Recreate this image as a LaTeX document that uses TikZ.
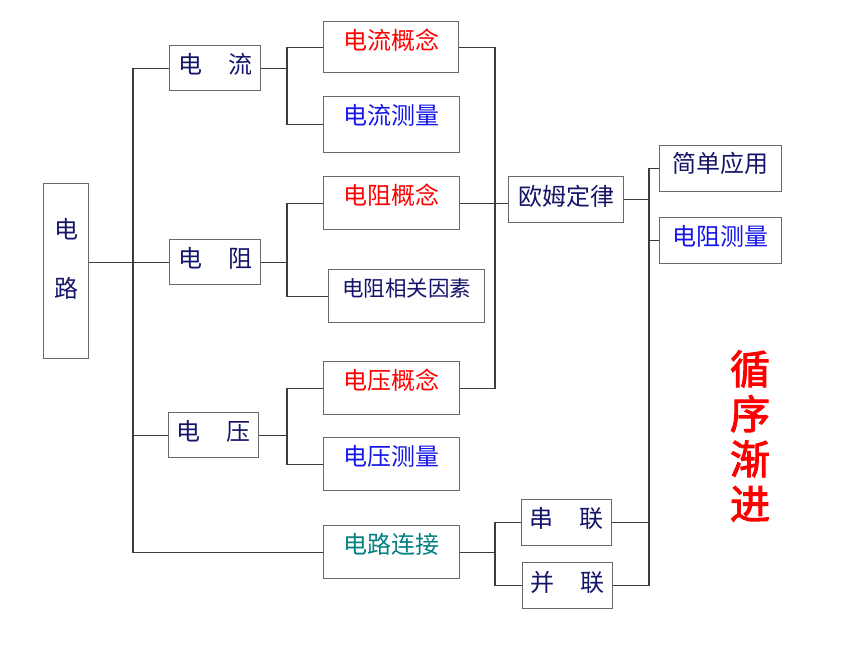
\documentclass[tikz,border=0pt]{standalone}
\usepackage{fontspec}
\usepackage{tikz}
\newfontfamily\cjk[AutoFakeBold=2.5]{Noto Sans CJK SC}
\definecolor{navy}{RGB}{20,20,105}
\definecolor{lblue}{RGB}{20,20,235}
\definecolor{lteal}{RGB}{0,128,128}
\definecolor{boxgray}{RGB}{105,105,105}
\definecolor{linegray}{RGB}{60,60,60}
\begin{document}
\begin{tikzpicture}[x=1pt,y=-1pt,
 box/.style={rectangle,draw=boxgray,line width=1.2pt,anchor=north west,inner sep=0pt,
  font=\cjk\fontsize{24}{28}\selectfont,text=navy,text height=28pt},
 link/.style={draw=linegray,line width=1.1pt}]
\useasboundingbox (0,0) rectangle (860,645);
% root
\node [box,minimum width=45pt,text height=55pt,text depth=120pt] (dlu) at (43,183)
 {\begin{tabular}[t]{@{}c@{}}电\\[30pt]路\end{tabular}};
% first level
\node [box,minimum width=91pt,text depth=17pt] (dl) at (169,45) {电\hspace{26pt}流};
\node [box,minimum width=91pt,text depth=17pt] (dz) at (169,239) {电\hspace{26pt}阻};
\node [box,minimum width=90pt,text depth=17pt] (dy) at (168,412) {电\hspace{26pt}压};
% second level
\node [box,minimum width=135pt,text depth=23pt,text=red] (dlgn) at (323,21) {电流概念};
\node [box,minimum width=136pt,text depth=28pt,text=lblue] (dlcl) at (323,96) {电流测量};
\node [box,minimum width=136pt,text depth=25pt,text=red] (dzgn) at (323,176) {电阻概念};
\node [box,minimum width=156pt,text depth=26pt,text height=27pt,
 font=\cjk\fontsize{21.5}{26}\selectfont] (dzys) at (328,269) {电阻相关因素};
\node [box,minimum width=136pt,text depth=25pt,text=red] (dygn) at (323,361) {电压概念};
\node [box,minimum width=136pt,text depth=25pt,text=lblue] (dycl) at (323,437) {电压测量};
\node [box,minimum width=136pt,text depth=25pt,text=lteal] (dllj) at (323,525) {电路连接};
% third level
\node [box,minimum width=115pt,text depth=17pt,text height=29pt] (om) at (508,176) {欧姆定律};
\node [box,minimum width=90pt,text depth=18pt] (cl) at (521,499) {串\hspace{26pt}联};
\node [box,minimum width=90pt,text depth=17pt,text height=29pt] (bl) at (522,562) {并\hspace{26pt}联};
% fourth level
\node [box,minimum width=122pt,text depth=19pt,text height=27pt] (jd) at (659,145) {简单应用\hspace{9pt}};
\node [box,minimum width=122pt,text depth=18pt,text=lblue] (dzcl) at (659,217) {电阻测量\hspace{9pt}};
% slogan
\node [font=\cjk\bfseries\fontsize{40}{45}\selectfont,text=red,align=center] (xx) at (750,436)
 {循\\序\\渐\\进};
% branch points
\coordinate (b0) at (133,0);
\coordinate (b1) at (287,0);
\coordinate (b2) at (495,0);
\coordinate (b3) at (649,0);
% links
\draw [link] (dz.west -| dlu.east) -- (dz.west);
\draw [link] (dl.west) -- (dl.west -| b0) |- (dllj.west);
\draw [link] (dy.west) -- (dy.west -| b0);
\draw [link] (dl.east) -- (dl.east -| b1);
\draw [link] (dlgn.west) -- (dlgn.west -| b1) |- (dlcl.west);
\draw [link] (dz.east) -- (dz.east -| b1);
\draw [link] (dzgn.west) -- (dzgn.west -| b1) |- (dzys.west);
\draw [link] (dy.east) -- (dy.east -| b1);
\draw [link] (dygn.west) -- (dygn.west -| b1) |- (dycl.west);
\draw [link] (dlgn.east) -- (dlgn.east -| b2) |- (dygn.east);
\draw [link] (dzgn.east) -- (dzgn.east -| om.west);
\draw [link] (dllj.east) -- (dllj.east -| b2);
\draw [link] (cl.west) -- (cl.west -| b2) |- (bl.west);
\draw [link] (om.east) -- (om.east -| b3);
\draw [link] (jd.west) -- (jd.west -| b3) |- (bl.east);
\draw [link] (dzcl.west) -- (dzcl.west -| b3);
\draw [link] (cl.east) -- (cl.east -| b3);
\end{tikzpicture}
\end{document}
